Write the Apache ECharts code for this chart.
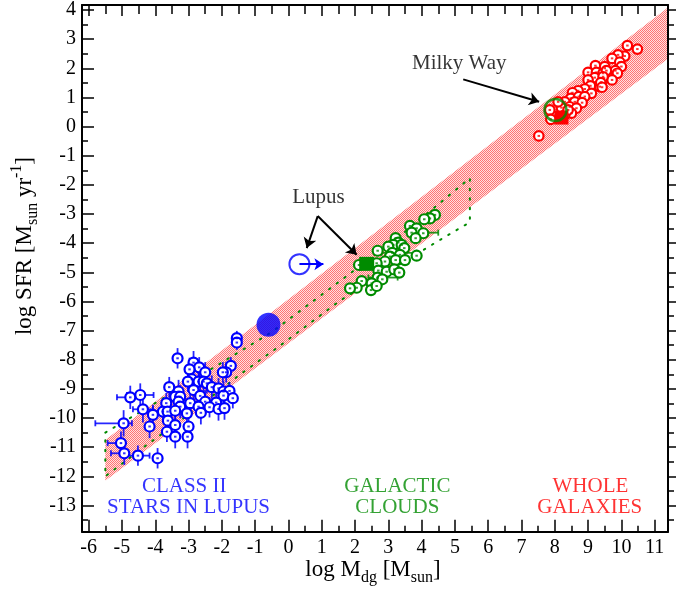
<!DOCTYPE html>
<html><head><meta charset="utf-8">
<script src="https://cdn.jsdelivr.net/npm/echarts@6/dist/echarts.min.js"></script>
<style>html,body{margin:0;padding:0;background:#fff}#c{width:676px;height:590px}</style>
</head><body><div id="c"></div>
<script>
// ---------- tick labels ----------
const xTicks = [-6,-5,-4,-3,-2,-1,0,1,2,3,4,5,6,7,8,9,10,11];
const yTicks = [-13,-12,-11,-10,-9,-8,-7,-6,-5,-4,-3,-2,-1,0,1,2,3,4];
const xRange = [-6.2, 11.4];
const yRange = [-13.9, 4.17];

// ---------- Class II stars in Lupus (blue) ----------
const blueX  = [-1.55,-1.55,-3.33,-2.85,-2.68,-2.97,-2.50,-1.73,-1.87,-1.97,-2.90,-3.02,-2.70,-2.55,-2.45,-3.58,-2.30,-2.85,-2.10,-3.30,-1.95,-1.77,-4.45,-4.75,-3.40,-3.25,-2.65,-1.95,-1.67,-3.30,-3.67,-2.95,-2.50,-2.17,-3.25,-2.70,-2.37,-2.10,-1.92,-4.37,-3.77,-3.63,-3.40,-3.05,-2.63,-4.07,-3.62,-4.95,-4.17,-3.40,-3.00,-3.65,-3.40,-3.03,-5.03,-4.93,-4.52,-3.93];
const blueY  = [-7.26,-7.41,-7.95,-8.10,-8.26,-8.33,-8.43,-8.21,-8.43,-8.43,-8.67,-8.75,-8.75,-8.75,-8.81,-8.94,-8.94,-9.04,-8.98,-9.09,-9.09,-9.07,-9.21,-9.29,-9.27,-9.27,-9.24,-9.23,-9.32,-9.44,-9.49,-9.49,-9.44,-9.47,-9.61,-9.61,-9.63,-9.69,-9.66,-9.70,-9.78,-9.78,-9.75,-9.84,-9.82,-9.89,-10.09,-10.18,-10.29,-10.24,-10.29,-10.47,-10.64,-10.64,-10.86,-11.21,-11.29,-11.38];
const blueXErrLo = [0,0,0,0,0,0,0,0,0,0,0,0,0,0,0,0,0,0,0,0,0,0,0.40,0.40,0,0,0,0,0,0,0,0,0,0,0,0,0,0,0,0.30,0,0,0,0,0,0,0,0.85,0,0,0,0,0,0,0.40,0.40,0.35,0];
const blueXErrHi = [0,0,0,0,0,0,0,0,0,0,0,0,0,0,0,0,0,0,0,0,0,0,0.40,0.10,0,0,0,0,0,0,0,0,0,0,0,0,0,0,0,0.30,0,0,0,0,0,0,0,0.25,0,0,0,0,0,0,0,0,0.35,0];
const blueYErr   = [0.25,0.25,0.35,0.40,0.35,0.40,0.35,0.30,0.35,0.35,0.40,0.35,0.45,0.40,0.35,0.35,0.40,0.45,0.35,0.40,0.35,0.30,0.40,0.40,0.35,0.40,0.40,0.30,0.35,0.40,0.35,0.45,0.40,0.35,0.40,0.40,0.35,0.40,0.40,0.45,0.35,0.40,0.35,0.35,0.40,0.35,0.35,0.45,0.40,0.40,0.35,0.35,0.40,0.40,0.40,0.40,0.35,0.35];

// ---------- Galactic clouds (green) ----------
const greenX = [4.40,4.25,4.08,3.65,3.85,3.70,4.05,3.82,3.22,3.30,3.15,3.40,3.00,3.48,2.68,3.12,3.35,3.85,3.05,3.22,2.90,3.50,2.65,2.70,2.95,3.18,3.33,2.68,2.82,2.20,2.50,2.48,2.05,1.85,2.12,2.65];
const greenY = [-3.03,-3.15,-3.18,-3.41,-3.49,-3.64,-3.66,-3.83,-3.83,-3.98,-4.06,-4.06,-4.12,-4.17,-4.26,-4.33,-4.40,-4.43,-4.46,-4.58,-4.63,-4.58,-4.69,-4.94,-4.98,-4.90,-5.01,-5.18,-5.24,-5.30,-5.38,-5.61,-5.53,-5.55,-4.75,-5.47];
const greenXErrLo = [0,0,0,0,0,0,0,0,0,0,0,0,0,0,0,0.32,0,0,0,0,0,0,0,0,0,0,0,0.28,0,0,0,0,0,0,0,0];
const greenXErrHi = [0,0,0,0,0,0.80,0,0,0,0,0,0,0,0,0,0.73,0,0,0,0,0,0,0,0,0,0,0,0.60,0,0,0,0,0,0,0,0];

// ---------- Whole galaxies (red) ----------
const redX = [10.48,10.18,10.10,9.90,9.72,9.95,10.00,9.22,9.50,9.82,9.88,9.00,9.25,9.45,9.20,9.48,9.72,9.00,9.40,9.07,9.35,8.90,8.70,8.53,9.10,8.48,8.72,8.90,8.30,8.60,8.82,8.45,8.65,8.20,8.50,8.30,7.85,7.88,7.52,9.50,9.55,9.45,9.38,9.42,8.10,8.40];
const redY = [2.66,2.78,2.42,2.46,2.34,2.21,2.06,2.09,2.00,1.92,1.83,1.86,1.86,1.83,1.68,1.66,1.60,1.60,1.52,1.40,1.37,1.29,1.23,1.16,1.14,0.97,1.03,1.03,0.85,0.85,0.82,0.68,0.63,0.65,0.46,0.40,0.57,0.25,-0.32,2.06,1.92,1.71,1.51,1.35,0.85,0.57];

// ---------- special objects ----------
const lupusCloud   = [-0.6, -6.8];    // filled blue circle
const lupusStars   = [0.33, -4.72];   // open blue circle (lower limit)
const lupusStarsArrowEnd = [1.05, -4.72];
const lupusGalCloud = [2.35, -4.71];  // filled green square
const milkyWayGas  = [8.02, 0.57];    // open green circle
const milkyWay     = [8.20, 0.31];    // filled red square

// ---------- shaded band (red) ----------
const bandX     = [-5.5, 11.37];
const bandUpper = [-10.75, 4.06];
const bandLower = [-12.15, 2.30];

// ---------- dotted green envelope ----------
const envX = [-5.5,-3.8,-2.15,-0.5,1.55,3.35,5.45,5.45,4.55,3.6,1.55,-0.35,-1.45,-2.95,-4.35,-5.5,-5.5];
const envY = [-10.5,-9.35,-8.2,-7.05,-5.3,-3.75,-1.77,-3.28,-3.89,-4.55,-5.97,-7.6,-8.5,-9.84,-11.0,-12.0,-10.5];

// ---------- annotations ----------
const noteText = ['Lupus','Milky Way'];
const noteX = [0.9, 5.13];
const noteY = [-2.43, 2.17];
const arrowFrom = [[0.88,-3.07],[0.88,-3.07],[5.25,1.62]];
const arrowTo   = [[0.55,-4.17],[2.05,-4.40],[7.53,0.85]];
const regionText = ['CLASS II','STARS IN LUPUS','GALACTIC','CLOUDS','WHOLE','GALAXIES'];
const regionX = [-3.13,-3.0,3.27,3.27,9.07,9.05];
const regionY = [-12.35,-13.06,-12.35,-13.06,-12.35,-13.06];
const regionGroup = [0,0,1,1,2,2];

// ---------- styles ----------
const FONT = 'Liberation Serif';
const BLUE = '#0000ff', GREEN = '#008b00', RED = '#ff0000';
const groupColors = [BLUE, GREEN, RED];

const pc = document.createElement('canvas');
pc.width = 2; pc.height = 2;
const pctx = pc.getContext('2d');
pctx.fillStyle = 'rgba(255,0,0,0.55)';
pctx.fillRect(0,0,1,1); pctx.fillRect(1,1,1,1);
pctx.fillStyle = 'rgba(255,0,0,0.12)';
pctx.fillRect(1,0,1,1); pctx.fillRect(0,1,1,1);

const xMinor = xTicks.map(v => v + 0.5).filter(v => v < xRange[1]);
const yMinor = yTicks.map(v => v - 0.5).filter(v => v > yRange[0]);

function ax(extra) {
  return Object.assign({
    type: 'value', splitLine: {show: false},
    axisLabel: {show: false}, axisTick: {show: false}, axisLine: {show: false, onZero: false}
  }, extra);
}
const lineBlack = {color: '#000', width: 2};
const tickStyle = {color: '#000', width: 1.5};

const xAxes = [
  ax({min: xRange[0], max: xRange[1], position: 'bottom',
      axisLine: {show: true, onZero: false, lineStyle: lineBlack},
      axisTick: {show: true, inside: true, length: 12, customValues: xTicks, lineStyle: tickStyle},
      axisLabel: {show: true, customValues: xTicks, formatter: v => String(v), fontFamily: FONT, fontSize: 20, color: '#000', margin: 6}}),
  ax({min: xRange[0], max: xRange[1], position: 'bottom',
      axisTick: {show: true, inside: true, length: 6, customValues: xMinor, lineStyle: tickStyle}}),
  ax({min: xRange[0], max: xRange[1], position: 'top',
      axisLine: {show: true, onZero: false, lineStyle: lineBlack},
      axisTick: {show: true, inside: true, length: 11, customValues: xTicks, lineStyle: tickStyle}}),
  ax({min: xRange[0], max: xRange[1], position: 'top',
      axisTick: {show: true, inside: true, length: 9, customValues: xMinor, lineStyle: tickStyle}})
];
const yAxes = [
  ax({min: yRange[0], max: yRange[1], position: 'left',
      axisLine: {show: true, onZero: false, lineStyle: lineBlack},
      axisTick: {show: true, inside: true, length: 12, customValues: yTicks, lineStyle: tickStyle},
      axisLabel: {show: true, customValues: yTicks, formatter: v => String(v), fontFamily: FONT, fontSize: 20, color: '#000', margin: 6}}),
  ax({min: yRange[0], max: yRange[1], position: 'left',
      axisTick: {show: true, inside: true, length: 6, customValues: yMinor, lineStyle: tickStyle}}),
  ax({min: yRange[0], max: yRange[1], position: 'right',
      axisLine: {show: true, onZero: false, lineStyle: lineBlack},
      axisTick: {show: true, inside: false, length: 9, customValues: yTicks, lineStyle: tickStyle}}),
  ax({min: yRange[0], max: yRange[1], position: 'right',
      axisTick: {show: true, inside: false, length: 6, customValues: yMinor, lineStyle: tickStyle}})
];

function errorBars(xs, ys, xlo, xhi, yerr, color) {
  return {
    type: 'custom', z: 3, silent: true,
    data: xs.map((x, i) => [x, ys[i], xlo[i], xhi[i], yerr ? yerr[i] : 0]),
    renderItem(params, api) {
      const x = api.value(0), y = api.value(1), xl = api.value(2), xh = api.value(3), ye = api.value(4);
      const st = {stroke: color, lineWidth: 1.8, opacity: 0.85};
      const ch = [];
      const cap = 3;
      if (ye > 0) {
        const t = api.coord([x, y + ye]), b = api.coord([x, y - ye]);
        ch.push({type: 'line', shape: {x1: t[0], y1: t[1], x2: b[0], y2: b[1]}, style: st});
      }
      if (xl > 0 || xh > 0) {
        const l = api.coord([x - xl, y]), r = api.coord([x + xh, y]);
        ch.push({type: 'line', shape: {x1: l[0], y1: l[1], x2: r[0], y2: r[1]}, style: st});
        if (xl > 0) ch.push({type: 'line', shape: {x1: l[0], y1: l[1] - cap, x2: l[0], y2: l[1] + cap}, style: st});
        if (xh > 0) ch.push({type: 'line', shape: {x1: r[0], y1: r[1] - cap, x2: r[0], y2: r[1] + cap}, style: st});
      }
      return {type: 'group', children: ch};
    }
  };
}

function rings(xs, ys, color, size, z) {
  return [{
    type: 'scatter', z: z, silent: true, symbol: 'circle', symbolSize: size,
    itemStyle: {color: '#fff', borderColor: color, borderWidth: 2.2, opacity: 1},
    data: xs.map((x, i) => [x, ys[i]])
  }, {
    type: 'scatter', z: z, silent: true, symbol: 'rect', symbolSize: [2.5, 2],
    itemStyle: {color: color},
    data: xs.map((x, i) => [x, ys[i]])
  }];
}

const series = [
  { // band
    type: 'custom', z: 1, silent: true, data: [[bandX[0], bandLower[0]]],
    renderItem(params, api) {
      const pts = [
        api.coord([bandX[0], bandLower[0]]), api.coord([bandX[0], bandUpper[0]]),
        api.coord([bandX[1], bandUpper[1]]), api.coord([bandX[1], bandLower[1]])
      ];
      return {type: 'polygon', shape: {points: pts}, style: {fill: {image: pc, repeat: 'repeat'}}};
    }
  },
  { // envelope
    type: 'line', z: 2, silent: true, showSymbol: false, symbol: 'none',
    lineStyle: {color: GREEN, width: 2, type: [1.5, 8], cap: 'round'},
    data: envX.map((x, i) => [x, envY[i]])
  },
  errorBars(blueX, blueY, blueXErrLo, blueXErrHi, blueYErr, BLUE),
  errorBars(greenX, greenY, greenXErrLo, greenXErrHi, null, GREEN),
  ...rings(blueX, blueY, BLUE, 10, 4),
  ...rings(greenX, greenY, GREEN, 10, 4),
  ...rings(redX, redY, RED, 9.5, 4),
  { type: 'scatter', z: 8, silent: true, symbol: 'circle', symbolSize: 24,
    itemStyle: {color: BLUE}, data: [lupusCloud] },
  { type: 'scatter', z: 8, silent: true, symbol: 'circle', symbolSize: 20,
    itemStyle: {color: 'rgba(0,0,0,0)', borderColor: BLUE, borderWidth: 2}, data: [lupusStars] },
  { type: 'scatter', z: 8, silent: true, symbol: 'rect', symbolSize: [15, 14],
    itemStyle: {color: GREEN, opacity: 1}, data: [lupusGalCloud] },
  { type: 'scatter', z: 8, silent: true, symbol: 'rect', symbolSize: [14, 14],
    itemStyle: {color: RED, opacity: 1}, data: [milkyWay] },
  { type: 'scatter', z: 9, silent: true, symbol: 'circle', symbolSize: 22,
    itemStyle: {color: 'rgba(0,0,0,0)', borderColor: GREEN, borderWidth: 2.5}, data: [milkyWayGas] },
  { type: 'lines', coordinateSystem: 'cartesian2d', z: 9, silent: true,
    symbol: ['none', 'arrow'], symbolSize: 9,
    lineStyle: {color: BLUE, width: 2, opacity: 1},
    data: [{coords: [lupusStars, lupusStarsArrowEnd]}] },
  { type: 'lines', coordinateSystem: 'cartesian2d', z: 9, silent: true,
    symbol: ['none', 'arrow'], symbolSize: 10,
    lineStyle: {color: '#000', width: 2, opacity: 1},
    data: arrowFrom.map((f, i) => ({coords: [f, arrowTo[i]]})) },
  { type: 'scatter', z: 10, silent: true, symbolSize: 0,
    label: {show: true, position: 'inside', formatter: '{b}', color: '#000', fontFamily: FONT, fontSize: 21},
    data: noteText.map((t, i) => ({name: t, value: [noteX[i], noteY[i]]})) },
  { type: 'scatter', z: 10, silent: true, symbolSize: 0,
    data: regionText.map((t, i) => ({name: t, value: [regionX[i], regionY[i]],
      label: {show: true, position: 'inside', formatter: '{b}', color: groupColors[regionGroup[i]], fontFamily: FONT, fontSize: 21}})) }
];

const richT = {
  n: {fontFamily: FONT, fontSize: 23, lineHeight: 32, verticalAlign: 'middle', color: '#000'},
  s: {fontFamily: FONT, fontSize: 16, verticalAlign: 'bottom', color: '#000'},
  p: {fontFamily: FONT, fontSize: 16, verticalAlign: 'top', color: '#000'}
};

const chart = echarts.init(document.getElementById('c'), null, {renderer: 'canvas'});
chart.setOption({
  animation: false,
  backgroundColor: '#fff',
  grid: {left: 82, right: 8, top: 5, bottom: 58.3, containLabel: false},
  xAxis: xAxes,
  yAxis: yAxes,
  series: series,
  graphic: [
    {type: 'text', x: 373, y: 570, silent: true,
     style: {text: '{n|log M}{s|dg}{n| [M}{s|sun}{n|]}', rich: richT, align: 'center', verticalAlign: 'middle'}},
    {type: 'text', x: 25, y: 246, rotation: Math.PI / 2, silent: true,
     style: {text: '{n|log SFR [M}{s|sun}{n| yr}{p|-1}{n|]}', rich: richT, align: 'center', verticalAlign: 'middle'}}
  ]
});
</script></body></html>
